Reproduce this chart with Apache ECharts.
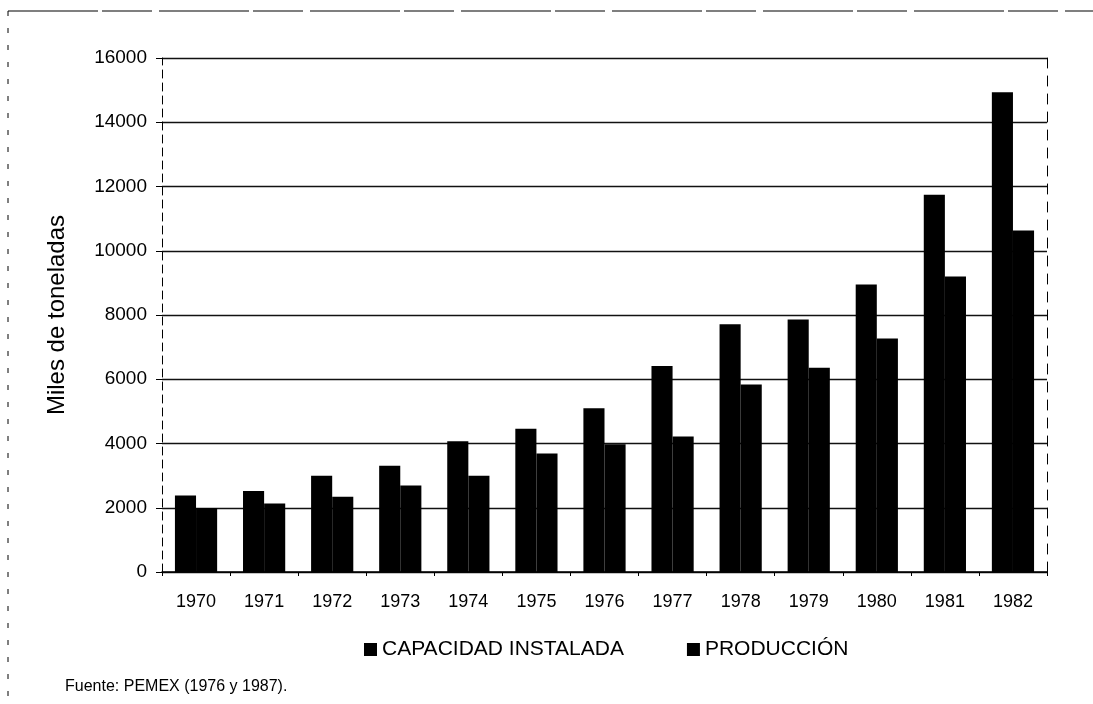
<!DOCTYPE html>
<html>
<head>
<meta charset="utf-8">
<script src="https://cdn.jsdelivr.net/npm/echarts@6/dist/echarts.min.js"></script>
<style>
  html, body { margin: 0; padding: 0; background: #fff; }
  #chart { width: 1093px; height: 704px; }
</style>
</head>
<body>
<div id="chart"></div>
<script>
// Años del periodo
const years = ['1970', '1971', '1972', '1973', '1974', '1975', '1976',
               '1977', '1978', '1979', '1980', '1981', '1982'];
// Capacidad instalada (miles de toneladas)
const capacidad = [2380, 2520, 3000, 3310, 4070, 4460, 5100,
                   6410, 7710, 7860, 8950, 11740, 14930];
// Producción (miles de toneladas)
const produccion = [1990, 2130, 2340, 2690, 3000, 3690, 3980,
                    4220, 5840, 6360, 7270, 9200, 10630];
const seriesNames = ['CAPACIDAD INSTALADA', 'PRODUCCIÓN'];
const yAxisTitle = 'Miles de toneladas';
const sourceNote = 'Fuente: PEMEX (1976 y 1987).';

const FONT = '"Liberation Sans", Arial, sans-serif';
const chart = echarts.init(document.getElementById('chart'), null, { renderer: 'canvas' });

chart.setOption({
  backgroundColor: '#ffffff',
  animation: false,
  textStyle: { fontFamily: FONT, color: '#000' },
  grid: { left: 162, right: 46, top: 58, bottom: 132, containLabel: false },
  legend: {
    left: 359,
    top: 634,
    itemWidth: 13,
    itemHeight: 13,
    itemGap: 63,
    icon: 'rect',
    textStyle: { fontFamily: FONT, fontSize: 21, color: '#000' },
    data: seriesNames
  },
  xAxis: {
    type: 'category',
    data: years,
    axisLine: { show: true, lineStyle: { color: '#000', width: 1.5 } },
    axisTick: { show: true, alignWithLabel: false, length: 4, lineStyle: { color: '#000' } },
    axisLabel: { fontFamily: FONT, fontSize: 18, color: '#000', margin: 21 },
    splitLine: { show: false }
  },
  yAxis: [{
    type: 'value',
    min: 0,
    max: 16000,
    interval: 2000,
    name: yAxisTitle,
    nameLocation: 'middle',
    nameGap: 93,
    nameTextStyle: { fontFamily: FONT, fontSize: 24, color: '#000' },
    axisLine: { show: true, lineStyle: { color: '#000', width: 1, type: [8, 5] } },
    axisTick: { show: true, length: 6, lineStyle: { color: '#000' } },
    axisLabel: {
      fontFamily: FONT, fontSize: 19, color: '#000', margin: 15,
      formatter: (v) => String(v)
    },
    splitLine: { show: true, lineStyle: { color: '#111', width: 1.4 } }
  }, {
    // borde derecho del área de trazado
    type: 'value',
    position: 'right',
    min: 0,
    max: 16000,
    interval: 2000,
    axisLine: { show: true, lineStyle: { color: '#000', width: 1, type: [10, 8] } },
    axisTick: { show: false },
    axisLabel: { show: false },
    splitLine: { show: false }
  }],
  series: [{
    name: seriesNames[0],
    type: 'bar',
    data: capacidad,
    barGap: '0%',
    barCategoryGap: '38%',
    itemStyle: { color: '#000' }
  }, {
    name: seriesNames[1],
    type: 'bar',
    data: produccion,
    barGap: '0%',
    barCategoryGap: '38%',
    itemStyle: { color: '#000' }
  }],
  graphic: [{
    // marco superior
    type: 'line',
    shape: { x1: 8, y1: 11, x2: 1093, y2: 11 },
    style: { stroke: '#000', lineWidth: 1.2, lineDash: [90, 4, 50, 7] },
    silent: true
  }, {
    // marco izquierdo
    type: 'line',
    shape: { x1: 8, y1: 11, x2: 8, y2: 704 },
    style: { stroke: '#000', lineWidth: 1, lineDash: [5, 12] },
    silent: true
  }, {
    type: 'text',
    left: 65,
    top: 679,
    style: { text: sourceNote, font: '16px "Liberation Sans", Arial, sans-serif', fill: '#000' },
    silent: true
  }]
});
</script>
</body>
</html>
